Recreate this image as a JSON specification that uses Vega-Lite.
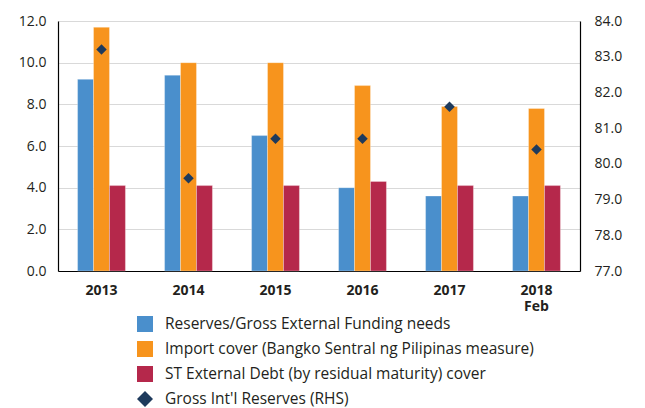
{
  "$schema": "https://vega.github.io/schema/vega-lite/v6.json",
  "autosize": "none",
  "width": 522,
  "height": 250,
  "padding": {"left": 58, "top": 21, "right": 65, "bottom": 137},
  "config": {
    "font": "Open Sans",
    "view": {"stroke": null},
    "axis": {"labelFont": "Open Sans", "labelFontSize": 14, "labelColor": "#231f20", "ticks": false, "domainColor": "#000000", "domainWidth": 1.2, "gridColor": "#d9d9d9", "gridWidth": 1.2, "title": null},
    "legend": {"title": null, "orient": "none", "legendX": 79, "legendY": 295, "direction": "vertical",
      "symbolSize": 256, "symbolStrokeWidth": 0, "labelFontSize": 15.5, "labelFont": "Open Sans", "labelColor": "#231f20",
      "rowPadding": 8, "labelOffset": 12, "labelLimit": 500}
  },
  "datasets": {
    "bars": [
      {"year": "2013", "series": "Reserves/Gross External Funding needs", "value": 9.2},
      {"year": "2013", "series": "Import cover (Bangko Sentral ng Pilipinas measure)", "value": 11.7},
      {"year": "2013", "series": "ST External Debt (by residual maturity) cover", "value": 4.1},
      {"year": "2014", "series": "Reserves/Gross External Funding needs", "value": 9.4},
      {"year": "2014", "series": "Import cover (Bangko Sentral ng Pilipinas measure)", "value": 10.0},
      {"year": "2014", "series": "ST External Debt (by residual maturity) cover", "value": 4.1},
      {"year": "2015", "series": "Reserves/Gross External Funding needs", "value": 6.5},
      {"year": "2015", "series": "Import cover (Bangko Sentral ng Pilipinas measure)", "value": 10.0},
      {"year": "2015", "series": "ST External Debt (by residual maturity) cover", "value": 4.1},
      {"year": "2016", "series": "Reserves/Gross External Funding needs", "value": 4.0},
      {"year": "2016", "series": "Import cover (Bangko Sentral ng Pilipinas measure)", "value": 8.9},
      {"year": "2016", "series": "ST External Debt (by residual maturity) cover", "value": 4.3},
      {"year": "2017", "series": "Reserves/Gross External Funding needs", "value": 3.6},
      {"year": "2017", "series": "Import cover (Bangko Sentral ng Pilipinas measure)", "value": 7.9},
      {"year": "2017", "series": "ST External Debt (by residual maturity) cover", "value": 4.1},
      {"year": "2018", "series": "Reserves/Gross External Funding needs", "value": 3.6},
      {"year": "2018", "series": "Import cover (Bangko Sentral ng Pilipinas measure)", "value": 7.8},
      {"year": "2018", "series": "ST External Debt (by residual maturity) cover", "value": 4.1}
    ],
    "gir": [
      {"year": "2013", "series": "Gross Int'l Reserves (RHS)", "value": 83.2},
      {"year": "2014", "series": "Gross Int'l Reserves (RHS)", "value": 79.6},
      {"year": "2015", "series": "Gross Int'l Reserves (RHS)", "value": 80.7},
      {"year": "2016", "series": "Gross Int'l Reserves (RHS)", "value": 80.7},
      {"year": "2017", "series": "Gross Int'l Reserves (RHS)", "value": 81.6},
      {"year": "2018", "series": "Gross Int'l Reserves (RHS)", "value": 80.4}
    ]
  },
  "encoding": {
    "x": {
      "field": "year", "type": "nominal", "sort": null,
      "scale": {"paddingInner": 0.45, "paddingOuter": 0.225},
      "axis": {"labelAngle": 0, "labelFontWeight": "bold", "labelPadding": 12, "labelLineHeight": 16, "labelBaseline": "top",
        "labelExpr": "datum.value == '2018' ? ['2018', 'Feb'] : datum.label"}
    }
  },
  "layer": [
    {
      "data": {"name": "bars"},
      "mark": {"type": "bar", "stroke": "#ffffff", "strokeWidth": 0.5, "strokeOpacity": 0.6},
      "encoding": {
        "xOffset": {"field": "series", "type": "nominal", "sort": null, "scale": {"paddingInner": 0, "domain": ["Reserves/Gross External Funding needs", "Import cover (Bangko Sentral ng Pilipinas measure)", "ST External Debt (by residual maturity) cover"]}},
        "y": {
          "field": "value", "type": "quantitative",
          "scale": {"domain": [0, 12], "nice": false},
          "axis": {"values": [0, 2, 4, 6, 8, 10, 12], "format": ".1f", "labelPadding": 12, "grid": true}
        },
        "color": {
          "field": "series", "type": "nominal",
          "scale": {
            "domain": ["Reserves/Gross External Funding needs", "Import cover (Bangko Sentral ng Pilipinas measure)", "ST External Debt (by residual maturity) cover", "Gross Int'l Reserves (RHS)"],
            "range": ["#4a8fcc", "#f7941d", "#b5284b", "#1e3a5c"]
          }
        }
      }
    },
    {
      "data": {"name": "gir"},
      "mark": {"type": "point", "filled": true, "size": 110, "opacity": 1},
      "encoding": {
        "y": {
          "field": "value", "type": "quantitative",
          "scale": {"domain": [77, 84], "nice": false, "zero": false},
          "axis": {"orient": "right", "values": [77, 78, 79, 80, 81, 82, 83, 84], "format": ".1f", "labelPadding": 14, "grid": false}
        },
        "color": {"field": "series", "type": "nominal"},
        "shape": {
          "field": "series", "type": "nominal",
          "scale": {
            "domain": ["Reserves/Gross External Funding needs", "Import cover (Bangko Sentral ng Pilipinas measure)", "ST External Debt (by residual maturity) cover", "Gross Int'l Reserves (RHS)"],
            "range": ["square", "square", "square", "diamond"]
          }
        }
      }
    }
  ],
  "resolve": {"scale": {"y": "independent"}}
}
